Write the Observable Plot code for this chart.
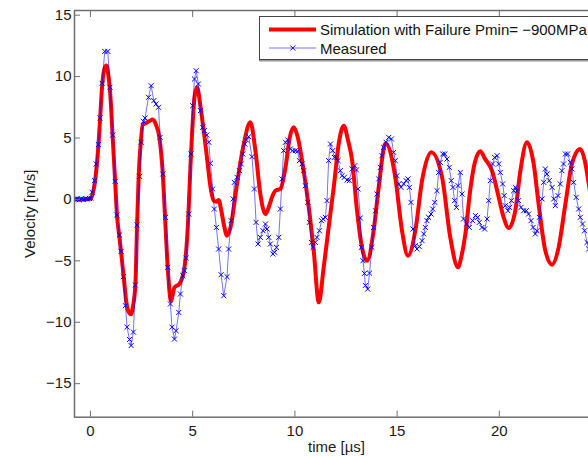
<!DOCTYPE html>
<html>
<head>
<meta charset="utf-8">
<script src="https://cdn.jsdelivr.net/npm/d3@7"></script>
<script src="https://cdn.jsdelivr.net/npm/@observablehq/plot@0.6"></script>
<style>
  html, body { margin: 0; padding: 0; background: #fff; overflow: hidden; width: 588px; height: 456px; }
  #wrap { position: relative; width: 620px; height: 456px; }
  #legend { position: absolute; left: 259px; top: 16px; width: 350px; height: 42px; background: #fff;
            border: 1px solid #444; box-shadow: 0 1.5px 0 #9a9a9a; font-family: "Liberation Sans", Arial, sans-serif;
            font-size: 15px; color: #111; }
  #legend svg { position: absolute; left: 0; top: 0; }
  .lt { position: absolute; left: 60px; white-space: nowrap; }
</style>
</head>
<body>
<div id="wrap">
  <div id="chart"></div>
  <div id="legend">
    <svg width="60" height="42">
      <line x1="9" x2="56" y1="12.5" y2="12.5" stroke="#ff0000" stroke-width="4"/>
      <line x1="9" x2="56" y1="31" y2="31" stroke="#0000ff" stroke-opacity="0.55" stroke-width="1"/>
      <path d="M30.3,28.5L35.3,33.5M30.3,33.5L35.3,28.5" stroke="#0000ff" stroke-width="1"/>
    </svg>
    <div class="lt" style="top:4px">Simulation with Failure Pmin= −900MPa</div>
    <div class="lt" style="top:23px">Measured</div>
  </div>
</div>
<script>
const xTicks = [0, 5, 10, 15, 20];
const yTicks = [-15, -10, -5, 0, 5, 10, 15];

// Simulation with failure (red)
const simT = [-0.78,-0.4,0.0,0.1,0.2,0.3,0.39,0.47,0.57,0.68,0.78,0.87,0.96,1.09,1.21,1.3,1.42,1.5,1.63,1.75,1.88,1.99,2.08,2.2,2.28,2.36,2.46,2.56,2.75,2.9,3.05,3.2,3.37,3.54,3.65,3.78,3.94,4.11,4.35,4.6,4.76,4.92,5.09,5.21,5.41,5.66,5.9,6.03,6.15,6.27,6.4,6.52,6.68,6.85,7.17,7.5,7.82,8.07,8.31,8.56,8.75,8.88,9.05,9.29,9.54,9.75,9.94,10.15,10.35,10.68,10.92,11.17,11.41,11.65,11.9,12.14,12.39,12.6,12.8,13.04,13.28,13.53,13.85,14.1,14.43,14.91,15.24,15.53,15.89,16.22,16.67,17.2,17.6,17.98,18.15,18.34,18.58,18.8,19.07,19.3,19.64,19.97,20.21,20.46,20.78,21.03,21.35,21.68,21.92,22.25,22.58,22.9,23.23,23.55,23.96,24.2,24.37,24.6,24.85];
const simV = [0,0,0.05,0.4,1.2,2.6,4.4,6.5,9.2,10.6,10.9,10.2,8.8,5.0,1.4,-1.3,-3.1,-4.3,-6.35,-8.3,-9.2,-9.35,-8.7,-6.9,-2.1,1.9,4.6,6.1,6.25,6.4,6.5,6.1,5.05,2.07,-1.46,-5.53,-8.25,-7.16,-6.89,-5.53,-2.28,3.7,8.31,9.13,7.23,3.97,0.71,-0.1,-0.2,-0.05,-0.9,-2.0,-2.95,-2.28,1.26,4.51,6.28,3.97,0.44,-1.19,-0.5,0.17,0.71,0.85,2.61,5.05,5.87,5.0,3.16,-0.65,-4.17,-8.38,-5.53,-2.28,0.98,4.5,6.0,4.8,3.16,-0.92,-3.9,-4.99,-2.55,0.98,4.57,1.8,-2.55,-4.58,-2.55,1.53,3.84,1.8,-3.09,-5.53,-4.6,-2.8,0.8,3.0,3.92,3.3,2.34,0.17,-1.46,-2.33,-0.92,2.34,4.65,2.89,-0.37,-4.17,-5.31,-3.9,-0.37,2.89,4.1,3.0,1.3,-1.0,-3.0];

// Measured (blue, x markers)
const measT = [-0.75,-0.65,-0.55,-0.45,-0.35,-0.25,-0.15,-0.05,0.02,0.08,0.2,0.28,0.39,0.47,0.57,0.7,0.85,0.96,1.09,1.21,1.29,1.42,1.5,1.61,1.71,1.79,1.91,1.99,2.1,2.2,2.28,2.4,2.48,2.59,2.67,2.84,2.97,3.1,3.21,3.33,3.41,3.54,3.67,3.78,3.91,3.99,4.11,4.19,4.32,4.4,4.52,4.6,4.68,4.81,4.92,5.0,5.09,5.17,5.28,5.38,5.49,5.57,5.69,5.79,5.87,5.98,6.06,6.16,6.27,6.39,6.52,6.68,6.76,6.88,6.98,7.04,7.17,7.29,7.38,7.45,7.55,7.63,7.74,7.9,8.02,8.1,8.2,8.31,8.44,8.56,8.64,8.72,8.8,8.92,9.01,9.1,9.21,9.29,9.37,9.45,9.54,9.65,9.78,9.89,10.02,10.14,10.22,10.35,10.43,10.51,10.63,10.71,10.81,10.89,11.0,11.08,11.2,11.3,11.38,11.49,11.57,11.65,11.74,11.85,11.93,12.03,12.11,12.22,12.31,12.42,12.55,12.66,12.8,12.93,13.01,13.09,13.2,13.25,13.33,13.4,13.45,13.56,13.65,13.77,13.85,13.94,14.02,14.1,14.18,14.26,14.34,14.46,14.59,14.72,14.83,14.91,14.99,15.08,15.19,15.32,15.44,15.53,15.6,15.68,15.78,15.89,15.97,16.09,16.22,16.3,16.38,16.46,16.54,16.66,16.74,16.84,16.95,17.03,17.11,17.23,17.33,17.44,17.55,17.65,17.73,17.81,17.9,17.98,18.09,18.17,18.25,18.4,18.53,18.69,18.83,18.94,19.02,19.15,19.28,19.4,19.48,19.56,19.67,19.77,19.89,19.97,20.05,20.16,20.24,20.29,20.42,20.5,20.59,20.7,20.78,20.86,20.94,21.06,21.19,21.32,21.43,21.55,21.65,21.76,21.84,21.96,22.09,22.17,22.25,22.33,22.44,22.58,22.66,22.74,22.87,22.98,23.06,23.14,23.23,23.34,23.47,23.55,23.63,23.76,23.88,23.96,24.07,24.17,24.29,24.37,24.5];
const measV = [0.02,0.05,-0.02,0.04,0.0,0.06,0.03,0.08,0.1,0.58,1.53,2.88,4.46,6.63,9.45,12.05,12.05,9.13,5.24,1.47,-1.27,-2.9,-4.23,-6.29,-8.65,-10.4,-11.4,-11.9,-10.8,-6.97,-2.08,1.88,4.65,6.36,6.63,8.31,9.26,8.04,7.77,7.5,5.05,2.07,-1.46,-5.53,-8.51,-10.4,-11.37,-10.69,-9.2,-7.7,-6.21,-5.8,-4.77,-1.19,3.7,7.63,9.8,10.48,9.4,7.23,5.87,5.6,5.24,4.65,2.94,0.85,-0.78,-2.28,-4.04,-6.13,-7.84,-6.29,-4.04,-1.73,0.04,1.39,1.8,2.34,2.89,3.7,4.51,4.84,5.11,3.48,0.85,-1.87,-3.63,-3.09,-2.55,-2.0,-2.41,-3.09,-3.63,-4.44,-4.31,-3.9,-3.09,-0.78,1.67,3.97,4.65,4.84,4.11,3.97,3.97,3.92,3.16,2.89,2.34,1.12,-0.24,-1.87,-3.5,-3.9,-3.5,-3.09,-2.55,-1.73,-1.59,-1.46,-0.1,3.16,4.51,3.97,3.42,3.42,3.16,2.34,1.93,1.8,1.58,1.53,2.48,2.75,2.4,0.85,-1.51,-3.9,-4.99,-6.02,-7.0,-7.3,-6.0,-3.9,-2.28,-0.92,0.44,1.67,2.61,3.56,4.24,4.65,5.05,4.92,3.83,3.16,1.93,1.26,0.98,1.26,1.53,1.67,0.98,-0.24,-2.41,-3.77,-4.04,-3.85,-3.36,-2.81,-2.28,-1.73,-1.46,-1.19,-0.78,-0.24,0.71,2.2,3.02,3.7,3.7,3.29,2.61,1.53,0.98,-0.1,-0.65,1.12,2.2,0.44,-1.59,-2.0,-2.28,-1.73,-1.32,-1.46,-1.87,-2.28,-2.41,-1.59,-0.1,1.53,2.89,3.42,3.56,2.89,2.2,1.26,0.31,-0.51,-0.92,-0.65,-0.1,0.71,0.98,0.71,-0.1,-0.65,-0.92,-0.92,-1.19,-1.73,-2.28,-2.81,-2.55,-1.46,0.04,1.39,2.48,2.07,1.53,0.98,0.04,-0.51,0.31,1.26,2.34,2.89,3.7,3.7,3.02,2.48,1.39,0.17,-0.78,-1.46,-2.0,-2.55,-3.5,-4.04,-4.3];

const axisColor = "#6e6e6e";
const chart = Plot.plot({
  width: 620,
  height: 456,
  marginLeft: 74,
  marginRight: 22,
  marginTop: 10,
  marginBottom: 39.3,
  style: { fontFamily: "'Liberation Sans', Arial, sans-serif", fontSize: "15px", color: "#1a1a1a", background: "#fff" },
  x: { domain: [-0.78, 24.85] },
  y: { domain: [-17.73, 15.38] },
  marks: [
    Plot.line(simT, { x: simT, y: simV, stroke: "#ff0000", strokeWidth: 4, curve: "monotone-x", clip: true }),
    Plot.line(measT, { x: measT, y: measV, stroke: "#0000ff", strokeOpacity: 0.55, strokeWidth: 1, clip: true }),
    Plot.dot(measT, { x: measT, y: measV, symbol: "times", r: 2.4, stroke: "#0000ff", strokeWidth: 1, clip: true }),
    Plot.frame({ stroke: axisColor, strokeWidth: 1.5 }),
    Plot.axisX(xTicks, { anchor: "bottom", tickSize: -6, stroke: axisColor, fill: "none", label: null }),
    Plot.axisX(xTicks, { anchor: "top", tickSize: -6, stroke: axisColor, fill: "none", label: null }),
    Plot.axisY(yTicks, { anchor: "left", tickSize: -6, stroke: axisColor, fill: "none", label: null }),
    Plot.axisX(xTicks, { anchor: "bottom", tickSize: 0, tickPadding: 8, fontSize: 15, label: "time [µs]", labelAnchor: "center", labelOffset: 35, labelArrow: "none" }),
    Plot.axisY(yTicks, { anchor: "left", tickSize: 0, tickPadding: 3, fontSize: 15, label: "Velocity [m/s]", labelAnchor: "center", labelOffset: 50, labelArrow: "none" })
  ]
});
document.getElementById("chart").appendChild(chart);
</script>
</body>
</html>
